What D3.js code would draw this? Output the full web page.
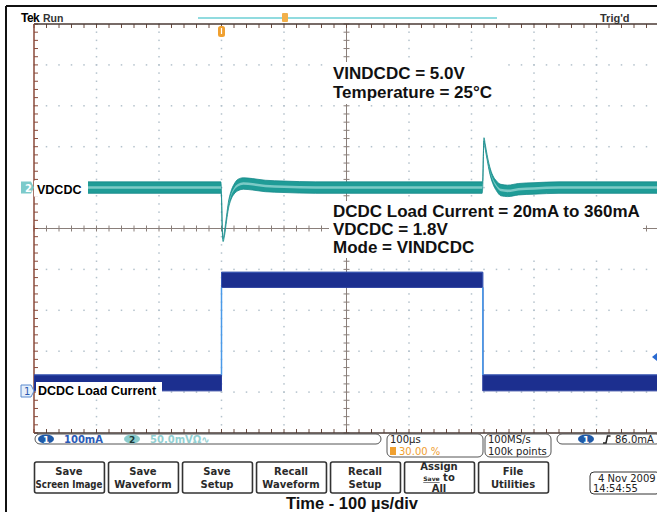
<!DOCTYPE html>
<html><head><meta charset="utf-8">
<script src="https://cdn.jsdelivr.net/npm/d3@7/dist/d3.min.js"></script>
<style>
html,body{margin:0;padding:0;background:#fff;}
svg{display:block;}
text{font-family:"Liberation Sans",Arial,sans-serif;}
.ui{font-family:"DejaVu Sans",Verdana,sans-serif;}
</style></head>
<body><svg id="c" width="657" height="512"></svg>
<script>
// ---------------- data ----------------
// horizontal: 100 µs/div, trigger at 30 %
const timeTicks = [-300,-200,-100,0,100,200,300,400,500,600,700];
const divTicks = [-5,-4,-3,-2,-1,0,1,2,3,4,5];
// Channel 2: VDCDC (AC, 50 mV/div), deviation in mV
const vdcdcTime   = [-300,-1,0,1,2.5,5,8,11,15,20,26,35,50,70,100,150,417,418,419,420,422,425,429,434,440,447,458,475,500,540,700];
const vdcdcValue  = [0,0,-10,-45,-64,-55,-38,-22,-10,-2,3,5,4,2,1,0,0,5,40,59,50,37,22,10,2,-3,-4,-2,-1,0,0];
const vdcdcSpread = [7,7,3,2,2,3,3,4,5,6,7,7,7,7,7,7,7,4,2,2,3,3,4,5,6,7,7,7,7,7,7];
// Channel 1: DCDC load current (100 mA/div), band low/high edges in mA
const loadTime = [-300,0,0,418,418,700];
const loadLow  = [3,3,256,256,3,3];
const loadHigh = [42,42,293,293,42,42];
const stepTimes = [0,418];
const annotTop = ["VINDCDC = 5.0V","Temperature = 25°C"];
const annotMid = ["DCDC Load Current = 20mA to 360mA","VDCDC = 1.8V","Mode = VINDCDC"];
const buttons = [["Save","Screen Image"],["Save","Waveform"],["Save","Setup"],["Recall","Waveform"],["Recall","Setup"],["Assign","Save to","All"],["File","Utilities"]];
const ch1Scale = "100mA", ch2Scale = "50.0mVΩ∿", timebase = "100µs", trigPos = "30.00 %";
const sampleRate = "100MS/s", recLen = "100k points", trigLevel = "86.0mA";
const dateStr = "4 Nov 2009", timeStr = "14:54:55";
const ch1Offset = -4, ch2Offset = 1, ch1PerDiv = 100, ch2PerDiv = 50;

// ---------------- scales ----------------
const svg = d3.select("#c");
const L=34, R=659, T=24, B=433;
const x = d3.scaleLinear().domain([-300,700]).range([L,R]);
const yd = d3.scaleLinear().domain([-5,5]).range([B,T]);
const y1 = v => yd(ch1Offset + v/ch1PerDiv);
const y2 = v => yd(ch2Offset + v/ch2PerDiv);

// frame
svg.append("line").attr("x1",6).attr("x2",657).attr("y1",6).attr("y2",6).attr("stroke","#111").attr("stroke-width",2);
svg.append("line").attr("x1",6).attr("x2",6).attr("y1",6).attr("y2",512).attr("stroke","#111").attr("stroke-width",2);

// clip
svg.append("clipPath").attr("id","pc").append("rect").attr("x",L).attr("y",T).attr("width",R-L).attr("height",B-T);

// grid dots
const g = svg.append("g");
const dotCol = "#b4c2cc";
divTicks.forEach(d=>{
  if(d===-5||d===5||d===0) return;
  for(let t=-300;t<=700;t+=20){
    g.append("rect").attr("x",x(t)-0.75).attr("y",yd(d)-0.75).attr("width",1.5).attr("height",1.5).attr("fill",dotCol);
  }
});
timeTicks.forEach(t=>{
  if(t===-300||t===200) return;
  for(let d=-5;d<=5.001;d+=0.2){
    g.append("rect").attr("x",x(t)-0.75).attr("y",yd(d)-0.75).attr("width",1.5).attr("height",1.5).attr("fill",dotCol);
  }
});
// centre axes with minor ticks
const axCol="#8a7f7a";
g.append("line").attr("x1",L).attr("x2",R).attr("y1",yd(0)).attr("y2",yd(0)).attr("stroke",axCol);
g.append("line").attr("x1",x(200)).attr("x2",x(200)).attr("y1",T).attr("y2",B).attr("stroke",axCol);
for(let t=-300;t<=700;t+=20){
  g.append("line").attr("x1",x(t)).attr("x2",x(t)).attr("y1",yd(0)-3).attr("y2",yd(0)+3).attr("stroke",axCol);
  g.append("line").attr("x1",x(t)).attr("x2",x(t)).attr("y1",T).attr("y2",T+4).attr("stroke","#6a4a3e");
  g.append("line").attr("x1",x(t)).attr("x2",x(t)).attr("y1",B).attr("y2",B-4).attr("stroke","#6a4a3e");
}
for(let d=-5;d<=5.001;d+=0.2){
  g.append("line").attr("x1",x(200)-3).attr("x2",x(200)+3).attr("y1",yd(d)).attr("y2",yd(d)).attr("stroke",axCol);
  g.append("line").attr("x1",L).attr("x2",L+4).attr("y1",yd(d)).attr("y2",yd(d)).attr("stroke","#8a4a3a");
}
g.append("line").attr("x1",L).attr("x2",R).attr("y1",T).attr("y2",T).attr("stroke","#4a3a34").attr("stroke-width",1.5);
g.append("line").attr("x1",L).attr("x2",R).attr("y1",B).attr("y2",B).attr("stroke","#4a3a34").attr("stroke-width",1.5);
g.append("line").attr("x1",L).attr("x2",L).attr("y1",T).attr("y2",B).attr("stroke","#8a4a3a").attr("stroke-width",1.5);

// annotation backgrounds (cover grid)
svg.append("rect").attr("x",329).attr("y",62).attr("width",170).attr("height",42).attr("fill","#fff");
svg.append("rect").attr("x",329).attr("y",201).attr("width",314).attr("height",57).attr("fill","#fff");

// ---------------- traces ----------------
const tr = svg.append("g").attr("clip-path","url(#pc)");
// load current
const ld = loadTime.map((t,i)=>({t,lo:loadLow[i],hi:loadHigh[i]}));
tr.append("path").datum(ld).attr("fill","#1c2f8f").attr("stroke","#2a3f9f").attr("stroke-width",1)
  .attr("d",d3.area().x(d=>x(d.t)).y0(d=>y1(d.lo)).y1(d=>y1(d.hi)));
tr.append("path").datum(ld).attr("fill","none").attr("stroke","#3a5ab8").attr("stroke-width",0.8)
  .attr("d",d3.line().x(d=>x(d.t)).y(d=>y1(d.hi)));
stepTimes.forEach(t=>{
  tr.append("line").attr("x1",x(t)).attr("x2",x(t)).attr("y1",y1(loadHigh[0])).attr("y2",y1(loadLow[2]))
    .attr("stroke","#4a9ae8").attr("stroke-width",1.5);
});
// VDCDC
const vd = vdcdcTime.map((t,i)=>({t,v:vdcdcValue[i],s:vdcdcSpread[i]}));
const cur = d3.curveMonotoneX;
tr.append("path").datum(vd).attr("fill","#1f9c97").attr("stroke","#17898a").attr("stroke-width",0.8)
  .attr("d",d3.area().curve(cur).x(d=>x(d.t)).y0(d=>y2(d.v-d.s)).y1(d=>y2(d.v+d.s)));
tr.append("path").datum(vd).attr("fill","#7ccac6")
  .attr("d",d3.area().curve(cur).x(d=>x(d.t)).y0(d=>y2(d.v-d.s*0.22)).y1(d=>y2(d.v+d.s*0.22)));

// trace labels
svg.append("rect").attr("x",L).attr("y",y2(0)-7).attr("width",54).attr("height",16).attr("fill","#fff");
svg.append("text").attr("x",37).attr("y",y2(0)+6).attr("font-size",12.5).attr("font-weight","bold").text("VDCDC");
svg.append("rect").attr("x",L+2).attr("y",382).attr("width",126).attr("height",16).attr("fill","#fff");
svg.append("text").attr("x",38).attr("y",394.5).attr("font-size",12.5).attr("font-weight","bold").text("DCDC Load Current");

// channel markers
svg.append("path").attr("d",`M21,${y2(0)-6}h10l3,6l-3,6h-10z`).attr("fill","#7ccaca");
svg.append("text").attr("class","ui").attr("x",25).attr("y",y2(0)+4).attr("font-size",10).attr("font-weight","bold").attr("fill","#fff").text("2");
svg.append("path").attr("d",`M21,385h10l3,6l-3,6h-10z`).attr("fill","#e6f0fa").attr("stroke","#5a8ad0");
svg.append("text").attr("class","ui").attr("x",24).attr("y",395).attr("font-size",10).attr("fill","#2a5ab0").text("1");
// trigger level marker right
svg.append("path").attr("d",`M657,${y1(86)-4}l-5,4l5,4z`).attr("fill","#2a6ad0");

// top bar
svg.append("text").attr("x",21).attr("y",22).attr("font-size",12).attr("font-weight","bold").attr("letter-spacing","-0.5").text("Tek");
svg.append("text").attr("x",43).attr("y",22).attr("font-size",10.5).attr("font-weight","bold").attr("fill","#333").text("Run");
svg.append("text").attr("x",600).attr("y",22).attr("font-size",11).attr("font-weight","bold").attr("fill","#333").text("Trig'd");
svg.append("line").attr("x1",198).attr("x2",497).attr("y1",18).attr("y2",18).attr("stroke","#6ccfd4").attr("stroke-width",1.4);
svg.append("rect").attr("x",282).attr("y",13).attr("width",6).attr("height",9).attr("rx",1).attr("fill","#f2b04a");
svg.append("rect").attr("x",x(0)-3.5).attr("y",26).attr("width",7).attr("height",11).attr("rx",2.5).attr("fill","#f0a030");
svg.append("line").attr("x1",x(0)).attr("x2",x(0)).attr("y1",28).attr("y2",34).attr("stroke","#fff").attr("stroke-width",1.2);

// annotations
annotTop.forEach((s,i)=>svg.append("text").attr("x",333).attr("y",79+i*19).attr("font-size",17).attr("font-weight","bold").attr("fill","#111").text(s));
annotMid.forEach((s,i)=>svg.append("text").attr("x",333).attr("y",217+i*18).attr("font-size",17).attr("font-weight","bold").attr("fill","#111").text(s));

// ---------------- status bar ----------------
const pill=(x0,y0,w,h)=>svg.append("rect").attr("x",x0).attr("y",y0).attr("width",w).attr("height",h).attr("rx",5).attr("fill","#fff").attr("stroke","#555").attr("stroke-width",1);
pill(35,434,346,10);
pill(387,434,96,23);
pill(485,434,66,23);
pill(557,434,104,10);
svg.append("ellipse").attr("cx",46).attr("cy",439).attr("rx",8).attr("ry",4.5).attr("fill","#1f5aa8");
svg.append("text").attr("class","ui").attr("x",43).attr("y",443).attr("font-size",9).attr("font-weight","bold").attr("fill","#fff").text("1");
svg.append("text").attr("class","ui").attr("x",64).attr("y",443).attr("font-size",10).attr("font-weight","bold").attr("fill","#2a5ab8").text(ch1Scale);
svg.append("ellipse").attr("cx",132).attr("cy",439).attr("rx",8).attr("ry",4.5).attr("fill","#8acccc");
svg.append("text").attr("class","ui").attr("x",129).attr("y",443).attr("font-size",9).attr("font-weight","bold").attr("fill","#1a3a3a").text("2");
svg.append("text").attr("class","ui").attr("x",150).attr("y",443).attr("font-size",10).attr("font-weight","bold").attr("fill","#92d0d2").text(ch2Scale);
svg.append("text").attr("class","ui").attr("x",390).attr("y",443).attr("font-size",10).attr("fill","#222").text(timebase);
svg.append("rect").attr("x",390).attr("y",447).attr("width",6).attr("height",8).attr("fill","#f0a030");
svg.append("text").attr("class","ui").attr("x",399).attr("y",455).attr("font-size",10).attr("fill","#f0a030").text(trigPos);
svg.append("text").attr("class","ui").attr("x",488).attr("y",443).attr("font-size",10).attr("fill","#222").text(sampleRate);
svg.append("text").attr("class","ui").attr("x",488).attr("y",455).attr("font-size",10).attr("fill","#222").text(recLen);
svg.append("ellipse").attr("cx",586).attr("cy",439).attr("rx",8).attr("ry",4.5).attr("fill","#1f5aa8");
svg.append("text").attr("class","ui").attr("x",583).attr("y",443).attr("font-size",9).attr("font-weight","bold").attr("fill","#fff").text("1");
svg.append("path").attr("d","M603,443h3l1.5,-7h3").attr("fill","none").attr("stroke","#222").attr("stroke-width",1.5);
svg.append("text").attr("class","ui").attr("x",615).attr("y",443).attr("font-size",10).attr("fill","#222").text(trigLevel);

// buttons
const bx = d3.scaleBand().domain(d3.range(buttons.length)).range([34,548]).paddingInner(0.055);
buttons.forEach((lines,i)=>{
  const x0=bx(i), w=bx.bandwidth();
  svg.append("rect").attr("x",x0+0.5).attr("y",462).attr("width",w).attr("height",31).attr("rx",2).attr("fill","#fff").attr("stroke","#333").attr("stroke-width",1.6);
  const n=lines.length, lh = n===3?11:12.5, y0 = n===3?470:475;
  lines.forEach((s,j)=>{
    const t = svg.append("text").attr("class","ui").attr("x",x0+w/2).attr("y",y0+j*lh).attr("text-anchor","middle")
      .attr("font-size",10).attr("fill","#2a2a2a").attr("font-weight","bold").text(s);
    if(n===3 && j===1) {
      t.text("").append("tspan").attr("font-size",6).attr("text-decoration","underline").text("Save");
      t.append("tspan").text(" to");
    }
    if(t.node().getComputedTextLength() > w-3) t.attr("textLength",w-3).attr("lengthAdjust","spacingAndGlyphs");
  });
});
pill(590,472,70,22).attr("rx",4).attr("stroke","#333");
svg.append("text").attr("class","ui").attr("x",598).attr("y",482).attr("font-size",10).attr("fill","#222").text(dateStr);
svg.append("text").attr("class","ui").attr("x",593).attr("y",492).attr("font-size",10).attr("fill","#222").text(timeStr);

// x title
svg.append("text").attr("x",352).attr("y",509).attr("text-anchor","middle").attr("font-size",16.5).attr("font-weight","bold").attr("fill","#111").text("Time - 100 µs/div");
</script></body></html>
